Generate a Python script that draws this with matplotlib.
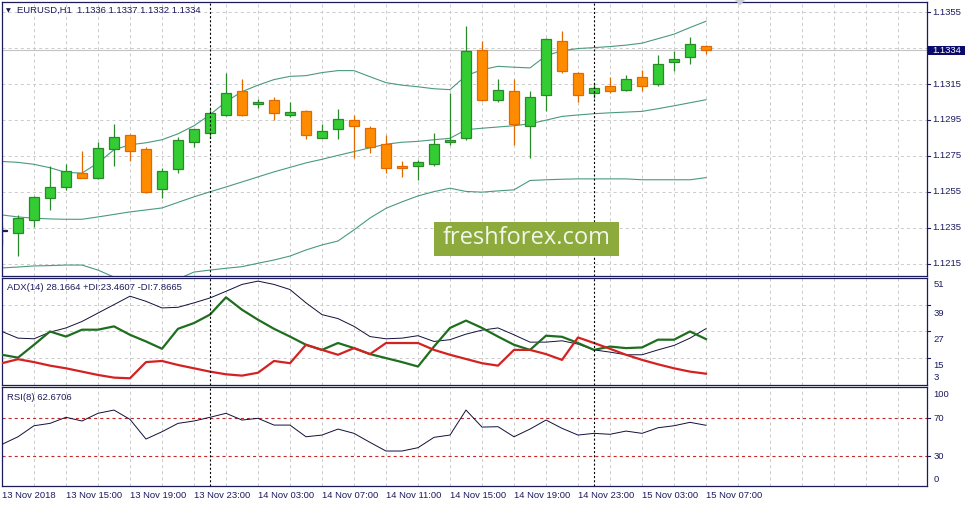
import matplotlib.pyplot as plt
import numpy as np
from matplotlib.patches import Rectangle, Polygon

plt.rcParams['font.family'] = ['Liberation Sans', 'DejaVu Sans']
plt.rcParams['lines.scale_dashes'] = False

# EURUSD H1 candles, 13 Nov 11:00 .. 15 Nov 07:00
opens = [1.12334, 1.12319, 1.12392, 1.12514, 1.12579, 1.12654, 1.12626, 1.12788, 1.12866, 1.12788,
         1.12565, 1.12676, 1.12827, 1.12877, 1.12978, 1.13109, 1.13039, 1.13061, 1.12978, 1.13001,
         1.12852, 1.12899, 1.12950, 1.12905, 1.12816, 1.12695, 1.12691, 1.12704, 1.12825, 1.12849,
         1.13342, 1.13061, 1.13111, 1.12916, 1.13089, 1.13392, 1.13212, 1.13100, 1.13141, 1.13115,
         1.13190, 1.13151, 1.13275, 1.13301, 1.13360]
highs = [1.12365, 1.12421, 1.12527, 1.12695, 1.12706, 1.12780, 1.12830, 1.12929, 1.12870, 1.12802,
         1.12682, 1.12855, 1.12902, 1.13011, 1.13212, 1.13180, 1.13068, 1.13078, 1.13050, 1.13003,
         1.12929, 1.13013, 1.12979, 1.12918, 1.12868, 1.12719, 1.12728, 1.12877, 1.13100, 1.13476,
         1.13392, 1.13180, 1.13180, 1.13109, 1.13405, 1.13444, 1.13215, 1.13156, 1.13191, 1.13201,
         1.13230, 1.13314, 1.13336, 1.13413, 1.13370]
lows = [1.12254, 1.12194, 1.12354, 1.12449, 1.12561, 1.12625, 1.12624, 1.12691, 1.12719, 1.12542,
        1.12514, 1.12654, 1.12799, 1.12849, 1.12975, 1.12975, 1.13017, 1.12951, 1.12964, 1.12845,
        1.12850, 1.12845, 1.12738, 1.12765, 1.12654, 1.12632, 1.12613, 1.12691, 1.12812, 1.12840,
        1.13057, 1.13050, 1.12812, 1.12741, 1.12998, 1.13212, 1.13048, 1.13072, 1.13100, 1.13109,
        1.13113, 1.13141, 1.13221, 1.13262, 1.13320]
closes = [1.12334, 1.12403, 1.12520, 1.12576, 1.12665, 1.12629, 1.12793, 1.12855, 1.12778, 1.12551,
          1.12665, 1.12838, 1.12899, 1.12989, 1.13100, 1.12979, 1.13050, 1.12989, 1.12992, 1.12864,
          1.12890, 1.12955, 1.12914, 1.12802, 1.12682, 1.12682, 1.12715, 1.12816, 1.12840, 1.13336,
          1.13063, 1.13117, 1.12927, 1.13078, 1.13402, 1.13221, 1.13089, 1.13130, 1.13109, 1.13178,
          1.13139, 1.13262, 1.13290, 1.13374, 1.13340]

bb_upper = [1.12719, 1.12714, 1.12703, 1.12684, 1.12658, 1.12654, 1.12711, 1.12784, 1.12812, 1.12823,
            1.12840, 1.12873, 1.12918, 1.12979, 1.13052, 1.13108, 1.13144, 1.13175, 1.13193, 1.13197,
            1.13214, 1.13225, 1.13225, 1.13191, 1.13158, 1.13144, 1.13135, 1.13124, 1.13119, 1.13197,
            1.13230, 1.13249, 1.13244, 1.13240, 1.13308, 1.13336, 1.13348, 1.13353, 1.13359, 1.13367,
            1.13378, 1.13403, 1.13428, 1.13465, 1.13500]
bb_mid = [1.12421, 1.12410, 1.12403, 1.12399, 1.12397, 1.12397, 1.12410, 1.12424, 1.12438, 1.12449,
          1.12460, 1.12491, 1.12522, 1.12550, 1.12577, 1.12605, 1.12633, 1.12661, 1.12686, 1.12711,
          1.12731, 1.12753, 1.12774, 1.12795, 1.12815, 1.12826, 1.12831, 1.12840, 1.12848, 1.12896,
          1.12904, 1.12911, 1.12918, 1.12929, 1.12949, 1.12970, 1.12978, 1.12985, 1.12990, 1.12994,
          1.12998, 1.13013, 1.13029, 1.13046, 1.13063]
bb_lower = [1.12126, 1.12131, 1.12137, 1.12139, 1.12142, 1.12142, 1.12114, 1.12075, 1.12053, 1.12042,
            1.12042, 1.12064, 1.12103, 1.12114, 1.12124, 1.12133, 1.12152, 1.12170, 1.12192, 1.12226,
            1.12254, 1.12276, 1.12338, 1.12404, 1.12458, 1.12494, 1.12527, 1.12551, 1.12570, 1.12552,
            1.12548, 1.12555, 1.12561, 1.12613, 1.12617, 1.12620, 1.12622, 1.12622, 1.12622, 1.12622,
            1.12617, 1.12617, 1.12617, 1.12617, 1.12629]

adx = [26.9, 23.9, 23.6, 26.6, 28.5, 31.4, 35.2, 39.0, 42.8, 40.5,
       37.5, 37.8, 39.8, 42.0, 45.0, 48.1, 49.6, 48.1, 45.8, 39.8,
       34.5, 32.7, 29.2, 24.6, 23.6, 23.9, 25.0, 22.4, 23.2, 25.7,
       27.5, 28.5, 25.4, 22.1, 22.1, 22.7, 21.2, 18.6, 17.6, 16.4,
       16.4, 18.6, 20.6, 23.9, 28.17]
plus_di = [16.4, 15.1, 20.9, 26.9, 24.6, 27.7, 27.7, 29.2, 25.4, 22.4,
           19.1, 28.1, 30.7, 34.5, 42.3, 36.7, 32.2, 28.1, 24.6, 20.9,
           18.6, 21.7, 19.4, 16.7, 14.9, 13.1, 11.1, 20.1, 28.5, 31.8,
           28.5, 24.6, 20.9, 18.6, 25.0, 24.5, 21.7, 18.6, 20.1, 19.4,
           19.7, 23.2, 23.2, 26.9, 23.46]
minus_di = [12.6, 14.4, 13.1, 11.5, 10.3, 8.8, 7.3, 6.1, 5.8, 13.1,
            13.6, 11.8, 10.3, 8.8, 7.6, 7.0, 8.3, 13.6, 12.6, 20.9,
            18.6, 16.4, 19.4, 16.7, 21.7, 21.7, 21.7, 18.6, 16.4, 14.5,
            12.6, 11.5, 18.6, 18.6, 16.7, 14.1, 24.2, 21.7, 19.1, 16.4,
            14.1, 12.1, 10.3, 8.8, 7.87]

rsi = [42.6, 50.6, 62.2, 64.7, 71.1, 67.2, 75.3, 78.7, 68.9, 48.2,
       55.9, 64.7, 67.2, 71.1, 75.3, 68.2, 70.0, 62.9, 62.9, 50.6,
       52.4, 58.7, 54.2, 44.7, 35.6, 35.6, 39.1, 50.0, 52.4, 78.7,
       60.8, 61.2, 50.6, 58.7, 68.2, 59.5, 52.4, 54.2, 53.2, 56.6,
       54.2, 60.1, 62.2, 65.8, 62.67]

time_labels = ["13 Nov 2018", "13 Nov 15:00", "13 Nov 19:00", "13 Nov 23:00", "14 Nov 03:00",
               "14 Nov 07:00", "14 Nov 11:00", "14 Nov 15:00", "14 Nov 19:00", "14 Nov 23:00",
               "15 Nov 03:00", "15 Nov 07:00"]
day_breaks = [13, 37]
price_grid = [1.1355, 1.1335, 1.1315, 1.1295, 1.1275, 1.1255, 1.1235, 1.1215]
price_labels = [1.1355, 1.1315, 1.1295, 1.1275, 1.1255, 1.1235, 1.1215]
last_price = 1.1334

W, H = 967, 505
navy = '#1b1b5e'
grid_c = '#cbcbcb'
up_fill, up_edge = '#33cc33', '#2a8a2a'
dn_fill, dn_edge = '#ff8c00', '#e06a00'
bb_c = '#4a9a7c'

fig = plt.figure(figsize=(W / 100, H / 100), dpi=100)


def add_panel(top, bottom):
    return fig.add_axes([1.5 / W, 1 - bottom / H, 925 / W, (bottom - top) / H])


def ftext(px, py, s, **kw):
    return fig.text(px / W, 1 - py / H, s, **kw)


ax = add_panel(1.5, 276)
ax_adx = add_panel(278, 384.5)
ax_rsi = add_panel(386.7, 485.7)

xs = np.arange(len(opens))
for a in (ax, ax_adx, ax_rsi):
    a.set_xlim(-0.03, 57.78)
    a.set_xticks([])
    a.set_yticks([])
    for s in a.spines.values():
        s.set_color(navy)
        s.set_linewidth(0.9)
    for g in range(0, 58, 2):
        a.axvline(g, color=grid_c, lw=0.7, ls=(0, (2.2, 2.2)), zorder=0)
    for d in day_breaks:
        a.axvline(d, color='black', lw=0.8, ls=(0, (1.5, 1.5)), zorder=5)

# main panel
ax.set_ylim(1.12081, 1.13610)
for p in price_grid:
    ax.axhline(p, color=grid_c, lw=0.7, ls=(0, (2.2, 2.2)), zorder=0)
ax.axhline(last_price, color='#c4c4c4', lw=0.8, zorder=0)

ax.plot(xs, bb_upper, color=bb_c, lw=0.8, zorder=2)
ax.plot(xs, bb_mid, color=bb_c, lw=0.8, zorder=2)
ax.plot(xs, bb_lower, color=bb_c, lw=0.8, zorder=2)

for i in xs:
    o, h, l, c = opens[i], highs[i], lows[i], closes[i]
    if c > o:
        fc, ec = up_fill, up_edge
    elif c < o:
        fc, ec = dn_fill, dn_edge
    else:
        fc, ec = navy, navy
    ax.vlines(i, l, h, color=ec, lw=0.9, zorder=3)
    ax.add_patch(Rectangle((i - 0.31, min(o, c)), 0.62, max(abs(c - o), 0.00002),
                           facecolor=fc, edgecolor=ec, lw=0.9, zorder=4))

ytr = ax.get_yaxis_transform()
for p in price_labels:
    ax.text(1.0067, p, f"{p:.4f}", transform=ytr, ha='left', va='center',
            fontsize=6.8, color=navy, clip_on=False)
for p in price_grid:
    ax.plot([1.0, 1.0035], [p, p], transform=ytr, color=navy, lw=0.8, clip_on=False)

# current price box
fig.patches.append(Rectangle((928.3 / W, 1 - 55.2 / H), 37 / W, 8.8 / H,
                             transform=fig.transFigure, facecolor='#0b0b6a', edgecolor='none'))
ftext(932.5, 50.9, f"{last_price:.4f}", fontsize=6.8, color='white', ha='left', va='center')

ftext(5.5, 10.5, "\u25BC", fontsize=4.5, color=navy, va='center', ha='left', family='DejaVu Sans')
ftext(17, 10.5, "EURUSD,H1  1.1336 1.1337 1.1332 1.1334", fontsize=6.8, color=navy,
      va='center', ha='left')

# chart shift marker
fig.patches.append(Polygon([(735 / W, 1.0), (745 / W, 1.0), (740 / W, 1 - 5.5 / H)],
                           closed=True, transform=fig.transFigure,
                           facecolor='#c8ccd4', edgecolor='none'))

# watermark
fig.patches.append(Rectangle((434 / W, 1 - 256 / H), 185 / W, 34 / H,
                             transform=fig.transFigure, facecolor='#8cab3c', edgecolor='none'))
ftext(527, 238.5, "freshforex.com", fontsize=17, color='#f4f6ec', ha='center', va='center',
      family='Open Sans')

# ADX panel
ax_adx.set_ylim(3, 51)
for lv in (39, 27, 15):
    ax_adx.axhline(lv, color=grid_c, lw=0.7, ls=(0, (2.2, 2.2)), zorder=0)
ax_adx.plot(xs, adx, color='#10103a', lw=0.7, zorder=3)
ax_adx.plot(xs, plus_di, color='#1f6e1f', lw=1.6, zorder=3)
ax_adx.plot(xs, minus_di, color='#d42222', lw=1.6, zorder=3)
ytr2 = ax_adx.get_yaxis_transform()
for lv, off in ((51, -6.5), (39, -8.5), (27, -8.3), (15, -7.7), (3, 6.5)):
    ax_adx.annotate(str(lv), xy=(1.0, lv), xycoords=ytr2, xytext=(5.2, off * 0.72),
                    textcoords='offset points', ha='left', va='center', fontsize=6.8,
                    color=navy, annotation_clip=False)
for lv in (39, 27, 15):
    ax_adx.plot([1.0, 1.0035], [lv, lv], transform=ytr2, color=navy, lw=0.8, clip_on=False)
ftext(7, 287, "ADX(14) 28.1664 +DI:23.4607 -DI:7.8665", fontsize=6.8, color=navy,
      va='center', ha='left')

# RSI panel
ax_rsi.set_ylim(-0.9, 103.3)
for lv in (70, 30):
    ax_rsi.axhline(lv, color='#c42a2a', lw=0.8, ls=(0, (2.2, 2.2)), zorder=1)
ax_rsi.plot(xs, rsi, color='#10103a', lw=0.7, zorder=3)
ytr3 = ax_rsi.get_yaxis_transform()
for lv, off in ((100, -4.5), (70, 0), (30, 0), (0, 5.5)):
    ax_rsi.annotate(str(lv), xy=(1.0, lv), xycoords=ytr3, xytext=(5.2, off * 0.72),
                    textcoords='offset points', ha='left', va='center', fontsize=6.8,
                    color=navy, annotation_clip=False)
for lv in (70, 30):
    ax_rsi.plot([1.0, 1.0035], [lv, lv], transform=ytr3, color=navy, lw=0.8, clip_on=False)
ftext(7, 397, "RSI(8) 62.6706", fontsize=6.8, color=navy, va='center', ha='left')

# time axis
xtr = ax_rsi.get_xaxis_transform()
for k, lbl in enumerate(time_labels):
    ax_rsi.annotate(lbl, xy=(4 * k, 0), xycoords=xtr, xytext=(-0.3, -9.3 * 0.72),
                    textcoords='offset points', ha='left', va='center', fontsize=6.8,
                    color=navy, annotation_clip=False)

fig.savefig('out.png', dpi=100)
